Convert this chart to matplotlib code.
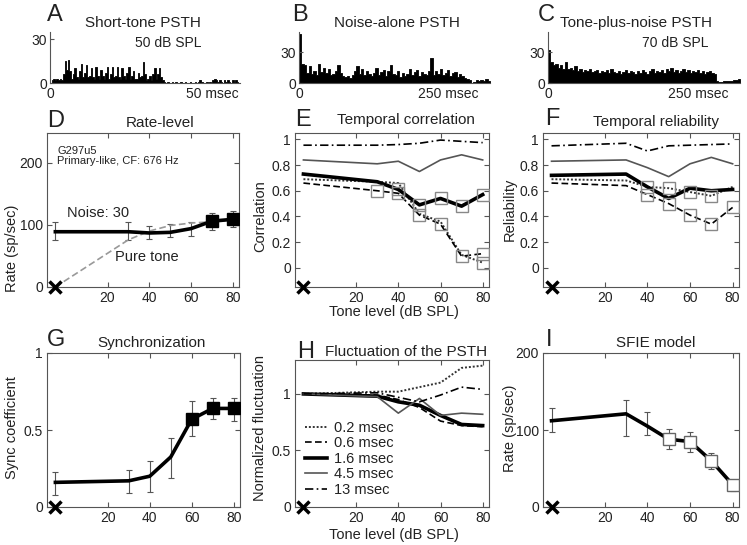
import numpy as np
import matplotlib.pyplot as plt

plt.rcParams["font.family"] = ["Liberation Sans", "DejaVu Sans"]

W, H = 747, 545

# === PSTH 数据 ===
psth_a_bin = 0.5   # msec
psth_a = [0, 2, 3, 2, 3, 2, 3, 2, 6, 15,
          9, 16, 8, 3, 6, 10, 4, 3, 8, 13,
          4, 7, 12, 4, 5, 10, 4, 3, 11, 5,
          3, 9, 5, 3, 7, 11, 3, 6, 11, 4,
          5, 11, 4, 3, 10, 5, 3, 7, 11, 3,
          5, 8, 3, 3, 7, 4, 5, 14, 6, 2,
          3, 5, 2, 6, 10, 3, 6, 10, 4, 2,
          1, 0, 1, 0, 0, 1, 0, 1, 0, 0,
          1, 0, 0, 1, 0, 0, 1, 0, 0, 1,
          0, 1, 2, 1, 0, 0, 1, 0, 1, 0,
          2, 3, 2, 1, 2, 1, 0, 2, 1, 2,
          1, 0, 2, 1, 2, 1]
psth_bc_bin = 4.0  # msec
psth_b = [47, 18, 17, 10, 16, 9, 12, 8, 18, 11,
          15, 10, 14, 8, 9, 12, 17, 10, 7, 6,
          7, 5, 8, 12, 16, 9, 14, 8, 12, 9,
          7, 10, 15, 8, 11, 13, 7, 12, 17, 9,
          8, 12, 6, 10, 7, 9, 14, 8, 11, 13,
          7, 11, 9, 8, 12, 24, 8, 12, 9, 14,
          8, 10, 13, 7, 10, 11, 6, 9, 7, 5,
          4, 3, 0, 1, 3, 2, 3, 2, 4, 2]
psth_c = [32, 20, 17, 18, 15, 17, 14, 20, 14, 15,
          13, 16, 12, 14, 11, 13, 12, 14, 11, 12,
          13, 10, 12, 11, 13, 10, 14, 11, 10, 12,
          9, 11, 13, 10, 12, 11, 9, 12, 10, 13,
          11, 9, 12, 14, 10, 12, 11, 13, 10, 14,
          12, 15, 11, 13, 10, 12, 14, 11, 13, 10,
          12, 11, 13, 10, 12, 9, 11, 12, 10, 9,
          2, 1, 1, 2, 2, 2, 2, 3, 3, 4]

# === 声级 (第一个点 = 噪声单独) ===
levels = [-5, 30, 40, 50, 60, 70, 80]

# D: rate-level
rate_noise = [89, 89, 87, 88, 94, 106, 109]
rate_noise_lo = [76, 76, 77, 80, 82, 92, 96]
rate_noise_hi = [104, 104, 99, 101, 105, 119, 122]
rate_noise_sq = [0, 0, 0, 0, 0, 1, 1]
rate_tone = [0, 76, 90, 99, 103, 105, 108]

# E: temporal correlation
corr_02 = [0.69, 0.67, 0.66, 0.42, 0.36, 0.10, 0.04]
corr_06 = [0.66, 0.60, 0.58, 0.41, 0.34, 0.09, 0.11]
corr_16 = [0.73, 0.67, 0.61, 0.49, 0.54, 0.48, 0.57]
corr_45 = [0.84, 0.81, 0.83, 0.75, 0.84, 0.88, 0.84]
corr_13 = [0.955, 0.955, 0.96, 0.97, 0.995, 0.985, 0.975]
corr_sq_02 = [0, 0, 0, 0, 0, 0, 1]
corr_sq_06 = [0, 1, 1, 1, 1, 1, 1]
corr_sq_16 = [0, 0, 1, 1, 1, 1, 1]

# F: temporal reliability
rel_02 = [0.69, 0.68, 0.63, 0.62, 0.59, 0.56, 0.63]
rel_06 = [0.66, 0.64, 0.57, 0.50, 0.41, 0.34, 0.47]
rel_16 = [0.72, 0.73, 0.63, 0.54, 0.62, 0.60, 0.61]
rel_45 = [0.83, 0.84, 0.78, 0.71, 0.81, 0.86, 0.81]
rel_13 = [0.95, 0.97, 0.91, 0.95, 0.955, 0.96, 0.965]
rel_sq_02 = [0, 0, 1, 1, 1, 1, 0]
rel_sq_06 = [0, 0, 1, 1, 1, 1, 1]

# G: synchronization
sync = [0.16, 0.17, 0.20, 0.325, 0.57, 0.64, 0.64]
sync_lo = [0.08, 0.09, 0.10, 0.19, 0.46, 0.57, 0.56]
sync_hi = [0.23, 0.24, 0.30, 0.45, 0.69, 0.71, 0.71]
sync_sq = [0, 0, 0, 0, 1, 1, 1]

# H: fluctuation
fluc_02 = [1.0, 1.02, 1.02, 1.06, 1.10, 1.23, 1.25]
fluc_06 = [1.0, 0.99, 0.95, 0.88, 0.76, 0.72, 0.71]
fluc_16 = [1.0, 0.98, 0.93, 0.90, 0.81, 0.73, 0.72]
fluc_45 = [1.0, 0.976, 0.83, 0.96, 0.81, 0.83, 0.82]
fluc_13 = [1.0, 1.01, 0.97, 0.93, 0.99, 1.06, 1.04]
fluc_labels = ['0.2 msec', '0.6 msec', '1.6 msec', '4.5 msec', '13 msec']

# I: SFIE model
sfie = [112, 121, 105, 88, 85, 60, 29]
sfie_lo = [97, 92, 93, 75, 71, 50, 21]
sfie_hi = [128, 139, 124, 101, 97, 70, 35]
sfie_sq = [0, 0, 0, 1, 1, 1, 1]

# === 线型 ===
st_02 = dict(color='#333333', lw=1.4, ls=(0, (1, 1)))
st_06 = dict(color='black', lw=1.2, ls=(0, (4, 2)))
st_16 = dict(color='black', lw=2.6, ls='-')
st_45 = dict(color='#555555', lw=1.2, ls='-')
st_13 = dict(color='black', lw=1.2, ls=(0, (5, 2, 1, 2)))

SPINE = '#555555'
TXT = '#222222'

fig = plt.figure(figsize=(W / 100, H / 100), dpi=100)


def px_axes(l, t, r, b):
    return fig.add_axes([l / W, 1 - b / H, (r - l) / W, (b - t) / H])


def ftext(x, y, s, size=10, ha='center', **kw):
    fig.text(x / W, 1 - y / H, s, fontsize=size, ha=ha, va='center', color=TXT, **kw)


def style_box(ax):
    for s in ax.spines.values():
        s.set_color(SPINE)
        s.set_linewidth(0.8)
    ax.tick_params(direction='in', top=True, right=True, length=3.5, width=0.8,
                   color=SPINE, labelcolor=TXT, labelsize=10, pad=3)
    ax.set_xlim(-9, 83)
    ax.set_xticks([20, 40, 60, 80])


def mark_x(ax, y0):
    ax.plot([-5], [y0], 'x', color='black', ms=8, mew=2.5, clip_on=False, zorder=6)


def squares(ax, y, mask, filled=False):
    xs = [lv for lv, m in zip(levels, mask) if m]
    ys = [v for v, m in zip(y, mask) if m]
    if filled:
        ax.plot(xs, ys, 's', ms=9, mfc='black', mec='black', zorder=5)
    else:
        ax.plot(xs, ys, 's', ms=9, mfc='none', mec='#888888', mew=1.0, zorder=5)


def errbars(ax, lo, hi):
    y = [(a + b) / 2 for a, b in zip(lo, hi)]
    err = [[yy - a for yy, a in zip(y, lo)], [b - yy for yy, b in zip(y, hi)]]
    ax.errorbar(levels, y, yerr=err, fmt='none', ecolor='#555555', elinewidth=0.8,
                capsize=2.5, capthick=0.8, zorder=2)


# === 第一行: PSTH ===
def psth_axes(box, vals, binw, xmax, ymax, xt, xtl):
    ax = px_axes(*box)
    edges = np.arange(len(vals) + 1) * binw
    yv = list(vals) + [vals[-1]]
    ax.fill_between(edges, 0, yv, step='post', color='black', lw=0.6, edgecolor='black')
    ax.set_xlim(0, xmax)
    ax.set_ylim(0, ymax)
    for s in ['top', 'right']:
        ax.spines[s].set_visible(False)
    for s in ['left', 'bottom']:
        ax.spines[s].set_color(SPINE)
        ax.spines[s].set_linewidth(0.8)
    ax.set_yticks([0, 30])
    ax.set_yticklabels(['0', '30'])
    ax.set_xticks(xt)
    ax.set_xticklabels(xtl)
    ax.tick_params(axis='y', direction='in', length=3, color=SPINE, labelcolor=TXT,
                   labelsize=10, pad=2)
    ax.tick_params(axis='x', length=0, labelcolor=TXT, labelsize=10, pad=3)
    return ax


psth_axes((50, 32, 240, 83), psth_a, psth_a_bin, 58.5, 34.8, [0, 50], ['0', '50 msec'])
psth_axes((299, 32, 490, 83), psth_b, psth_bc_bin, 320, 49.4, [0, 250], ['0', '250 msec'])
psth_axes((548, 32, 740, 83), psth_c, psth_bc_bin, 320, 49.4, [0, 250], ['0', '250 msec'])

ftext(143, 23, 'Short-tone PSTH', 11)
ftext(168, 43, '50 dB SPL', 10)
ftext(397, 23, 'Noise-alone PSTH', 11)
ftext(636, 23, 'Tone-plus-noise PSTH', 11)
ftext(675, 43, '70 dB SPL', 10)
ftext(47, 15, 'A', 17, ha='left')
ftext(292, 15, 'B', 17, ha='left')
ftext(538, 15, 'C', 17, ha='left')

# === D: Rate-level ===
axD = px_axes(47, 133, 239, 287)
style_box(axD)
axD.set_ylim(0, 248)
axD.set_yticks([0, 100, 200])
axD.plot(levels, rate_tone, color='#999999', lw=1.2, ls=(0, (4, 2)), zorder=3)
errbars(axD, rate_noise_lo, rate_noise_hi)
axD.plot(levels, rate_noise, color='black', lw=2.6, zorder=4)
squares(axD, rate_noise, rate_noise_sq, filled=True)
mark_x(axD, 0)
ftext(57, 151, 'G297u5', 8, ha='left')
ftext(57, 161, 'Primary-like, CF: 676 Hz', 8, ha='left')
ftext(67, 213, 'Noise: 30', 10.5, ha='left')
ftext(115, 257, 'Pure tone', 10.5, ha='left')
ftext(47, 121, 'D', 17, ha='left')
ftext(160, 123, 'Rate-level', 11)
ftext(12, 248, 'Rate (sp/sec)', 10.5, rotation=90)


# === E & F ===
def five_lines(ax, s02, s06, s16, s45, s13):
    h = []
    for y, st in [(s02, st_02), (s06, st_06), (s16, st_16), (s45, st_45), (s13, st_13)]:
        h.append(ax.plot(levels, y, zorder=3, **st)[0])
    return h


corr_ticks = [0, 0.2, 0.4, 0.6, 0.8, 1]
corr_tick_labels = ['0', '0.2', '0.4', '0.6', '0.8', '1']

axE = px_axes(295, 133, 489, 287)
style_box(axE)
axE.set_ylim(-0.15, 1.05)
axE.set_yticks(corr_ticks)
axE.set_yticklabels(corr_tick_labels)
five_lines(axE, corr_02, corr_06, corr_16, corr_45, corr_13)
squares(axE, corr_02, corr_sq_02)
squares(axE, corr_06, corr_sq_06)
squares(axE, corr_16, corr_sq_16)
mark_x(axE, -0.15)
ftext(295, 120, 'E', 17, ha='left')
ftext(406, 120, 'Temporal correlation', 11)
ftext(260, 216, 'Correlation', 10.5, rotation=90)
ftext(394, 312, 'Tone level (dB SPL)', 10.5)

axF = px_axes(543, 133, 739, 287)
style_box(axF)
axF.set_ylim(-0.15, 1.05)
axF.set_yticks(corr_ticks)
axF.set_yticklabels(corr_tick_labels)
five_lines(axF, rel_02, rel_06, rel_16, rel_45, rel_13)
squares(axF, rel_02, rel_sq_02)
squares(axF, rel_06, rel_sq_06)
mark_x(axF, -0.15)
ftext(545, 119, 'F', 17, ha='left')
ftext(656, 122, 'Temporal reliability', 11)
ftext(510, 209, 'Reliability', 10.5, rotation=90)

# === G: Synchronization ===
axG = px_axes(47, 353, 240, 507)
style_box(axG)
axG.set_ylim(0, 1)
axG.set_yticks([0, 0.5, 1])
axG.set_yticklabels(['0', '0.5', '1'])
errbars(axG, sync_lo, sync_hi)
axG.plot(levels, sync, color='black', lw=2.6, zorder=4)
squares(axG, sync, sync_sq, filled=True)
mark_x(axG, 0)
ftext(47, 340, 'G', 17, ha='left')
ftext(152, 343, 'Synchronization', 11)
ftext(12, 428, 'Sync coefficient', 10.5, rotation=90)

# === H: Fluctuation ===
axH = px_axes(295, 360, 489, 507)
style_box(axH)
axH.set_ylim(0, 1.3)
axH.set_yticks([0, 0.5, 1])
axH.set_yticklabels(['0', '0.5', '1'])
hH = five_lines(axH, fluc_02, fluc_06, fluc_16, fluc_45, fluc_13)
mark_x(axH, 0)
leg = axH.legend(hH, fluc_labels, loc='upper left', bbox_to_anchor=(305 / W, 1 - 421 / H),
                 bbox_transform=fig.transFigure, frameon=False, fontsize=10.5,
                 handlelength=1.5, handletextpad=0.5, labelspacing=0.1,
                 borderpad=0, borderaxespad=0)
for t in leg.get_texts():
    t.set_color(TXT)
ftext(297, 352, 'H', 17, ha='left')
ftext(406, 352, 'Fluctuation of the PSTH', 11)
ftext(260, 428, 'Normalized fluctuation', 10.5, rotation=90)
ftext(394, 535, 'Tone level (dB SPL)', 10.5)

# === I: SFIE model ===
axI = px_axes(543, 353, 739, 507)
style_box(axI)
axI.set_ylim(0, 200)
axI.set_yticks([0, 100, 200])
errbars(axI, sfie_lo, sfie_hi)
axI.plot(levels, sfie, color='black', lw=2.6, zorder=4)
xs = [lv for lv, m in zip(levels, sfie_sq) if m]
ys = [v for v, m in zip(sfie, sfie_sq) if m]
axI.plot(xs, ys, 's', ms=9, mfc='white', mec='#666666', mew=1.0, zorder=5)
mark_x(axI, 0)
ftext(546, 340, 'I', 17, ha='left')
ftext(656, 343, 'SFIE model', 11)
ftext(510, 428, 'Rate (sp/sec)', 10.5, rotation=90)

fig.savefig('out.png', dpi=100)
